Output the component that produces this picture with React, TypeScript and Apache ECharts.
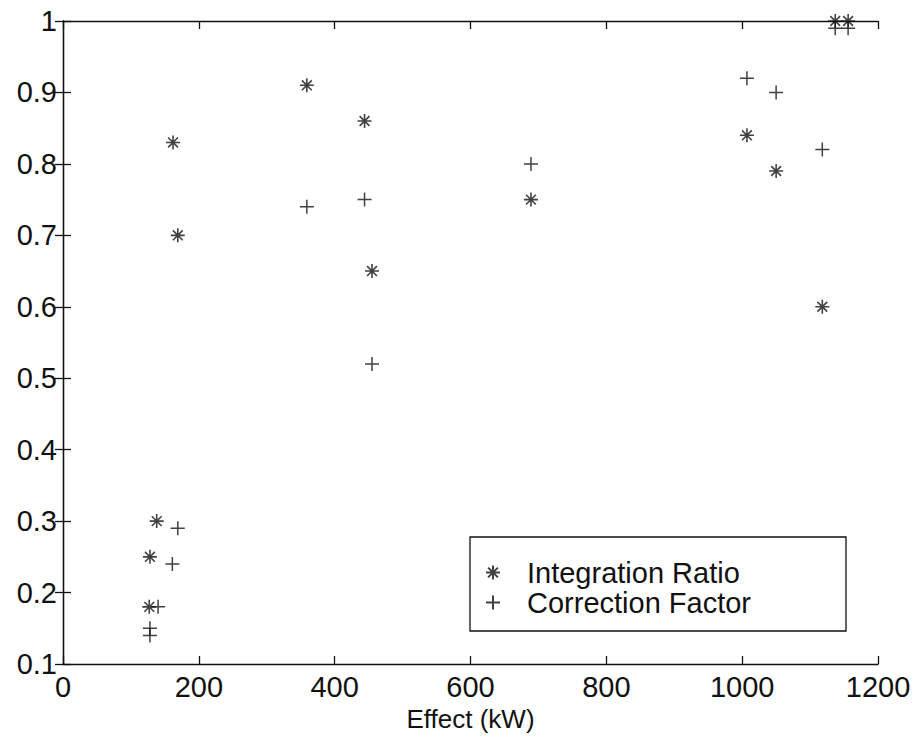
import React, { useEffect, useRef } from "react";
import * as echarts from "echarts";

const xTicks = [0, 200, 400, 600, 800, 1000, 1200];
const yTickLabels = ["0.1", "0.2", "0.3", "0.4", "0.5", "0.6", "0.7", "0.8", "0.9", "1"];

const ratioX = [128, 127, 138, 162, 169, 359, 444, 455, 689, 1007, 1050, 1118, 1137, 1156];
const ratioY = [0.25, 0.18, 0.3, 0.83, 0.7, 0.91, 0.86, 0.65, 0.75, 0.84, 0.79, 0.6, 1.0, 1.0];

const corrX = [128, 128, 140, 161, 169, 359, 444, 455, 689, 1007, 1050, 1118, 1137, 1156];
const corrY = [0.15, 0.14, 0.18, 0.24, 0.29, 0.74, 0.75, 0.52, 0.8, 0.92, 0.9, 0.82, 0.99, 0.99];

const seriesNames = ["Integration Ratio", "Correction Factor"];
const xName = "Effect (kW)";

const STAR = "path://M0,-1L0,1M-1,0L1,0M-0.7,-0.7L0.7,0.7M-0.7,0.7L0.7,-0.7";
const PLUS = "path://M0,-1L0,1M-1,0L1,0";

const FONT = "'Liberation Sans', Arial, Helvetica, sans-serif";
const INK = "#111111";

export default function App() {
  const ref = useRef<HTMLDivElement>(null);
  useEffect(() => {
    if (!ref.current) return;
    const chart = echarts.init(ref.current, undefined, { renderer: "svg" });
    const grid = { left: 63, top: 21, right: 40, bottom: 79 };
    const axisLine = { show: true, lineStyle: { color: INK, width: 1.3 } };
    const axisTick = { show: true, inside: true, length: 8, lineStyle: { color: INK, width: 1.3 } };
    const yFmt = (v: number) => {
      const i = Math.round(v * 10) - 1;
      return yTickLabels[i] ?? "";
    };
    const xFmt = (v: number) => {
      const t = xTicks.find((k) => Math.abs(k - v) < 1e-6);
      return t === undefined ? "" : String(t);
    };
    chart.setOption({
      animation: false,
      backgroundColor: "#ffffff",
      grid,
      xAxis: [
        {
          type: "value",
          min: 0,
          max: 1200,
          interval: 200,
          position: "bottom",
          axisLine,
          axisTick,
          splitLine: { show: false },
          axisLabel: { formatter: xFmt, color: INK, fontSize: 29, fontFamily: FONT, margin: 8 },
          name: xName,
          nameLocation: "middle",
          nameGap: 40,
          nameTextStyle: { color: INK, fontSize: 26, fontFamily: FONT },
        },
        {
          type: "value",
          min: 0,
          max: 1200,
          interval: 200,
          position: "top",
          axisLine,
          axisTick,
          splitLine: { show: false },
          axisLabel: { show: false },
        },
      ],
      yAxis: [
        {
          type: "value",
          min: 0.1,
          max: 1,
          interval: 0.1,
          position: "left",
          axisLine,
          axisTick,
          splitLine: { show: false },
          axisLabel: { formatter: yFmt, color: INK, fontSize: 29, fontFamily: FONT, margin: 6 },
        },
        {
          type: "value",
          min: 0.1,
          max: 1,
          interval: 0.1,
          position: "right",
          axisLine,
          axisTick,
          splitLine: { show: false },
          axisLabel: { show: false },
        },
      ],
      legend: {
        orient: "vertical",
        left: 485,
        top: 558,
        padding: 0,
        itemGap: 1,
        itemWidth: 14,
        itemHeight: 14,
        z: 20,
        data: seriesNames,
        textStyle: {
          color: INK,
          fontSize: 29,
          fontFamily: FONT,
          padding: [0, 0, 0, 22],
          lineHeight: 29,
        },
      },
      graphic: [
        {
          type: "rect",
          shape: { x: 470, y: 537, width: 376, height: 94 },
          style: { fill: "#ffffff", stroke: INK, lineWidth: 1.3 },
          z: 2,
          silent: true,
        },
      ],
      series: [
        {
          name: seriesNames[0],
          type: "scatter",
          xAxisIndex: 0,
          yAxisIndex: 0,
          symbol: STAR,
          symbolSize: 14,
          clip: false,
          z: 10,
          itemStyle: { color: "rgba(0,0,0,0)", borderColor: INK, borderWidth: 1.6 },
          data: ratioX.map((x, i) => [x, ratioY[i]]),
        },
        {
          name: seriesNames[1],
          type: "scatter",
          xAxisIndex: 0,
          yAxisIndex: 0,
          symbol: PLUS,
          symbolSize: 14,
          clip: false,
          z: 10,
          itemStyle: { color: "rgba(0,0,0,0)", borderColor: INK, borderWidth: 1.5 },
          data: corrX.map((x, i) => [x, corrY[i]]),
        },
      ],
    });
    return () => chart.dispose();
  }, []);
  return (
    <div
      ref={ref}
      style={{ position: "absolute", left: 0, top: 0, width: 918, height: 743, background: "#fff" }}
    />
  );
}
